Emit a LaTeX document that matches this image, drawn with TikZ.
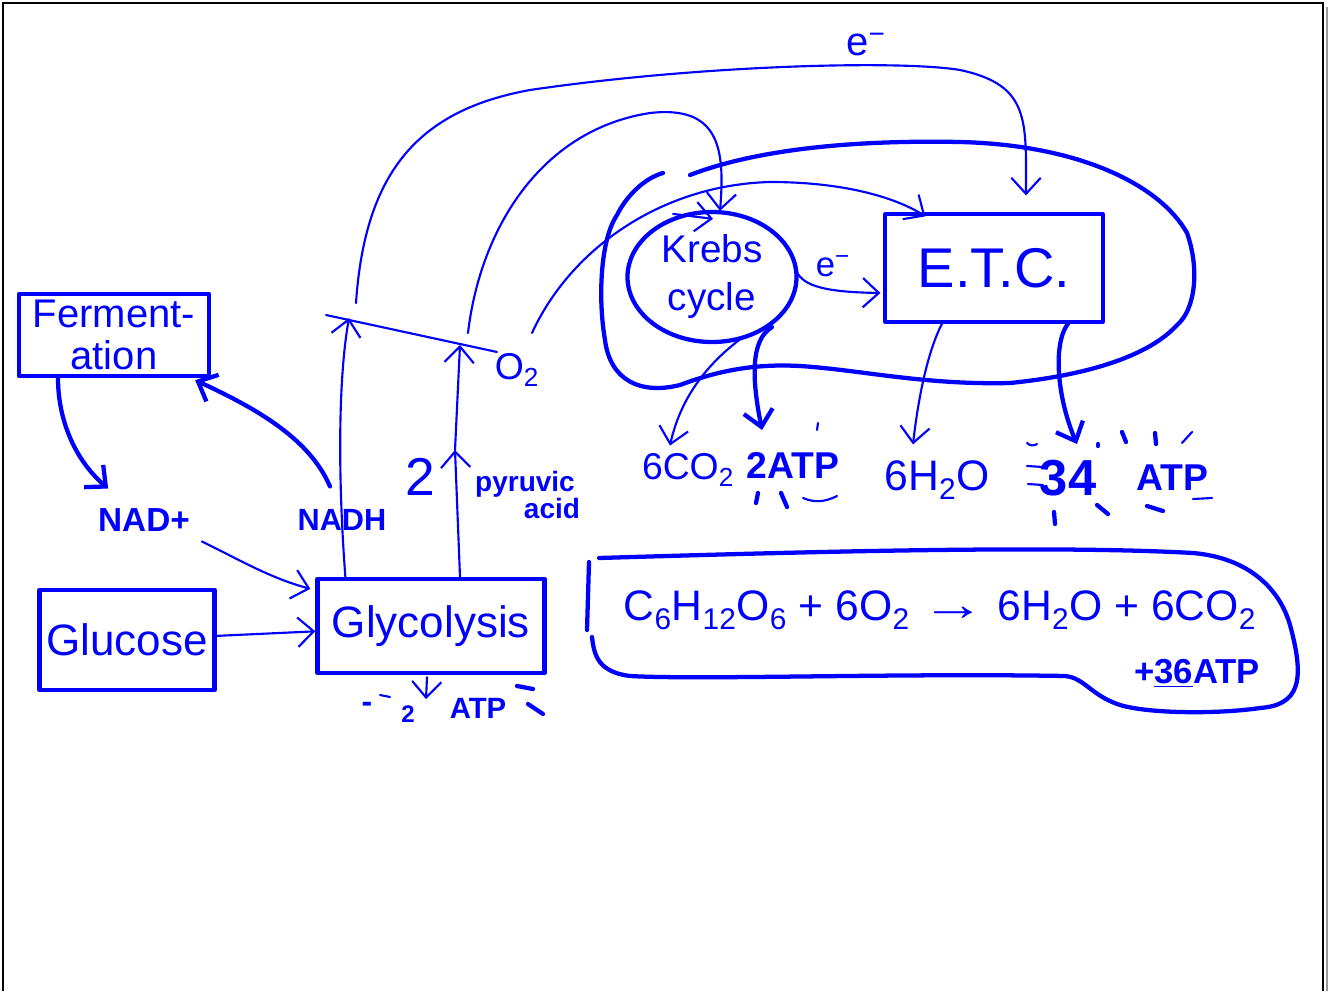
\documentclass[tikz,border=0pt]{standalone}
\usepackage{fontspec}
\usepackage{graphicx}
\setmainfont{Liberation Sans}
\usetikzlibrary{arrows.meta,calc,shapes.geometric}
\newcommand\hfs[1]{\fontsize{#1}{#1}\selectfont}
\begin{document}
\begin{tikzpicture}[x=0.75pt,y=-0.75pt,
  ink/.style={draw=blue, line width=1.6pt, line cap=round, line join=round},
  inkthick/.style={draw=blue, line width=3.2pt, line cap=round, line join=round},
  arr/.style={-{Straight Barb[length=12pt,width=22pt]}},
  lbl/.style={text=blue, inner sep=0pt, outer sep=0pt},
  box/.style={inkthick, rectangle, inner sep=0pt, text=blue, align=center},
]
\useasboundingbox (0,0) rectangle (1333,991);
% frame
\draw[black, line width=2.2pt] (3,991) -- (3,3) -- (1323,3) -- (1323,991);
\draw[black!40, line width=2pt] (1327,7) -- (1327,991);

% boxes
\node[box, minimum width=142.5pt, minimum height=61.5pt, font=\fontsize{30}{32}\selectfont] (ferm) at (114,335) {Ferment-\\ation};
\node[box, minimum width=131.25pt, minimum height=75pt, font=\hfs{33}] (glucose) at (127,640) {Glucose};
\node[box, minimum width=170.25pt, minimum height=70.5pt, font=\hfs{33}] (glyc) at (431,626) {Glycolysis};
\node[box, line width=2.4pt, minimum width=163.5pt, minimum height=81pt, font=\hfs{42}] (etc) at (994,268) {E.T.C.};
\node[box, ellipse, minimum width=126.75pt, minimum height=97.5pt, font=\fontsize{29}{36}\selectfont] (krebs) at (712,277) {Krebs\\cycle};

% labels
\node[lbl, font=\bfseries\hfs{25}] (nad) at (144,520) {NAD+};
\node[lbl, font=\bfseries\hfs{23}] (nadh) at (342,520) {NADH};
\node[lbl, font=\hfs{40}] (two) at (420,477) {2};
\node[lbl, font=\bfseries\hfs{21}] (pyr) at (525,484) {pyruvic};
\node[lbl, font=\bfseries\hfs{21}] (acid) at (552,508) {acid};
\node[lbl, font=\hfs{28}] (o2) at (517,370) {O\textsubscript{2}};
\node[lbl, font=\hfs{30}] (etop) at (866,45) {e\textsuperscript{−}};
\node[lbl, font=\hfs{26}] (emid) at (833,266) {e\textsuperscript{−}};
\node[lbl, font=\hfs{28}] (co2) at (688,470) {6CO\textsubscript{2}};
\node[lbl, font=\bfseries\hfs{28}] (atp2) at (793,465) {2ATP};
\node[lbl, font=\hfs{32}] (h2o) at (937,480) {6H\textsubscript{2}O};
\node[lbl, font=\bfseries\hfs{38}] (n34) at (1068,478) {34};
\node[lbl, font=\bfseries\hfs{28}] (atp34) at (1172,478) {ATP};
\node[lbl, font=\hfs{32}] (eqn) at (940,610) {C\textsubscript{6}H\textsubscript{12}O\textsubscript{6} + 6O\textsubscript{2} \scalebox{1.5}[1.1]{→} 6H\textsubscript{2}O + 6CO\textsubscript{2}};
\node[lbl, font=\bfseries\hfs{26}] (eqatp) at (1197,673) {+\underline{36}ATP};
\node[lbl, font=\bfseries\hfs{24}] (minus) at (367,707) {-};
\node[lbl, font=\bfseries\hfs{18}] (mtwo) at (408,714) {2};
\node[lbl, font=\bfseries\hfs{22}] (matp) at (478,708) {ATP};

% junction line from glycolysis
\coordinate (teeL) at (326,315);
\coordinate (teeR) at (497,352);
\coordinate (j1) at (349,318);
\coordinate (j2) at (460,345);
\coordinate (jm) at (455,450);
\coordinate (b1) at (356,303);
\coordinate (b2) at (468,333);
\coordinate (b3) at (532,333);
\draw[ink] (teeL) -- (teeR);

% connectors
\draw[inkthick, arr] ($(ferm.south)+(-56,0)$) .. controls (58,420) and (75,460) .. ($(nad.north west)+(10,-20)$);
\draw[inkthick, arr] ($(nadh.north)+(-12,-23)$) .. controls (310,440) and (260,410) .. ($(ferm.south east)+(-16,2)$);
\draw[ink, arr] ($(nad.south east)+(12,10)$) .. controls (240,560) and (270,578) .. ($(glyc.north west)+(-5,12)$);
\draw[ink, arr] (glucose) -- (glyc);
\draw[ink, arr] ($(glyc.north west)+(30,0)$) .. controls (338,480) and (338,380) .. (j1);
\draw[ink, arr] ($(glyc.north)+(29,0)$) -- (jm);
\draw[ink, arr] (jm) -- (j2);
\draw[ink, arr] ($(glyc.south)+(-4,2)$) -- ($(glyc.south)+(-5,24)$);

% long curves
\draw[ink, arr] (b1) .. controls (365,170) and (420,110) .. (530,90) .. controls (700,65) and (900,60) .. (960,70) .. controls (1030,85) and (1026,120) .. ($(etc.north)+(32,-17)$);
\draw[ink, arr] (b2) .. controls (480,230) and (540,130) .. (650,113) .. controls (720,105) and (725,150) .. ($(krebs.north)+(8,1)$);
\draw[ink, arr] (b3) .. controls (570,250) and (660,185) .. (770,182) .. controls (850,182) and (900,200) .. ($(etc.north west)+(42,4)$);

% big loop around Krebs and ETC
\draw[inkthick] (690,175) .. controls (760,148) and (860,140) .. (960,142) .. controls (1080,145) and (1160,185) .. (1187,233) .. controls (1200,270) and (1195,310) .. (1177,325) .. controls (1150,355) and (1090,375) .. (1010,383) .. controls (930,385) and (870,372) .. (813,367) .. controls (760,362) and (720,370) .. (680,385) .. controls (640,395) and (610,380) .. (605,340) .. controls (598,300) and (600,240) .. (617,215) .. controls (627,195) and (645,178) .. (663,173);

% small arrow on the Krebs cycle
\draw[ink, arr] ($(krebs.north)+(-39,4)$) -- ($(krebs.north)+(1,9)$);

% Krebs and ETC outputs
\draw[ink, arr] ($(krebs.east)+(-4,-10)$) .. controls (800,285) and (820,292) .. ($(etc.west)+(-3,25)$);
\draw[ink, arr] ($(krebs.south)+(31,-7)$) .. controls (705,365) and (680,400) .. ($(co2.north)+(-18,-8)$);
\draw[inkthick, arr] ($(krebs.south)+(60,-17)$) .. controls (750,340) and (752,380) .. ($(atp2.north)+(-31,-22)$);
\draw[ink, arr] ($(etc.south)+(-52,0)$) .. controls (927,353) and (918,400) .. ($(h2o.north)+(-24,-16)$);
\draw[inkthick, arr] ($(etc.south)+(74,0)$) .. controls (1052,345) and (1058,400) .. ($(n34.north)+(9,-16)$);

% equation outline
\draw[inkthick] (599,558) .. controls (800,552) and (1050,545) .. (1193,553) .. controls (1250,558) and (1280,590) .. (1290,625) .. controls (1305,680) and (1300,705) .. (1260,708) .. controls (1220,714) and (1150,714) .. (1120,705) .. controls (1090,695) and (1085,678) .. (1065,676) .. controls (900,673) and (700,680) .. (630,676) .. controls (598,672) and (594,655) .. (592,637);
\draw[inkthick] (589,562) -- (587,630);

% sparkle marks
\draw[ink] (818,423) -- (817,430);
\draw[inkthick] (758,493) -- (756,503);
\draw[inkthick] (781,493) -- (787,507);
\draw[ink] (803,498) .. controls (815,503) and (825,502) .. (837,496);
\draw[ink] (1027,443) .. controls (1030,446) and (1034,446) .. (1037,444);
\draw[ink] (1027,466) -- (1043,467);
\draw[ink] (1028,484) -- (1043,485);
\draw[inkthick] (1098,444) -- (1098,446);
\draw[inkthick] (1122,432) -- (1126,442);
\draw[inkthick] (1155,433) -- (1156,444);
\draw[ink] (1182,443) -- (1192,432);
\draw[inkthick] (1054,512) -- (1055,524);
\draw[inkthick] (1097,505) -- (1108,514);
\draw[inkthick] (1147,506) -- (1163,511);
\draw[ink] (1193,499) -- (1212,498);
\draw[ink] (380,695) -- (390,697);
\draw[inkthick] (517,686) -- (533,689);
\draw[inkthick] (528,704) -- (543,714);
\end{tikzpicture}
\end{document}
